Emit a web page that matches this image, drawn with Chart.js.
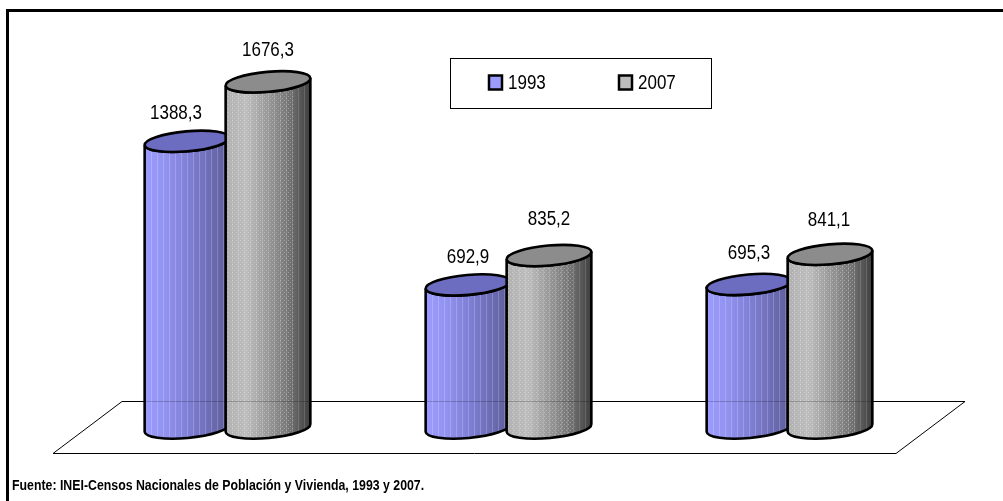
<!DOCTYPE html>
<html>
<head>
<meta charset="utf-8">
<style>
  html, body { margin: 0; padding: 0; background: #fff; }
  #wrap { position: relative; width: 1003px; height: 501px; }
</style>
</head>
<body>
<div id="wrap"><canvas id="chart" width="1003" height="501"></canvas></div>
<script src="https://cdn.jsdelivr.net/npm/chart.js@4/dist/chart.umd.min.js"></script>
<script>
const categories = ['Total', 'Hombres', 'Mujeres'];
const years = ['1993', '2007'];
const values1993 = [1388.3, 692.9, 695.3];
const values2007 = [1676.3, 835.2, 841.1];
const sourceText = 'Fuente: INEI-Censos Nacionales de Población y Vivienda, 1993 y 2007.';

// label offsets from the top of each cylinder, they aren't regular in the picture
const labelShiftX = [[-11, 0, 0], [0, 0, -1]];
const labelRise = [[28, 27, 31], [31, 36, 34]];

const looks = [
    { stops: ['#9c9cff', '#9292f0', '#8080d8', '#6e6eb8', '#5c5c98'], top: '#6c6cc0', dots: 'rgba(255,255,255,0)', line: 'rgba(255,255,255,0.2)' },
    { stops: ['#b0b0b0', '#bcbcbc', '#989898', '#747474', '#3e3e3e'], top: '#8c8c8c', dots: 'rgba(255,255,255,0.3)', line: 'rgba(255,255,255,0.14)' }
];

function fmt(v) {
    return v.toFixed(1).replace('.', ',');
}

// the text in the picture is squeezed sideways
function squeezedText(ctx, text, x, y, size, weight, align) {
    ctx.save();
    ctx.translate(x, y);
    ctx.scale(0.85, 1);
    ctx.font = weight + ' ' + size + 'px "Liberation Sans"';
    ctx.textAlign = align;
    ctx.textBaseline = 'middle';
    ctx.fillStyle = '#000';
    ctx.fillText(text, 0, 0);
    ctx.restore();
}

function dotPattern(ctx, color) {
    const c = document.createElement('canvas');
    c.width = 4;
    c.height = 4;
    const g = c.getContext('2d');
    g.fillStyle = color;
    g.fillRect(0, 0, 1, 1);
    g.fillRect(2, 2, 1, 1);
    return ctx.createPattern(c, 'repeat');
}

function drawCylinder(ctx, bar, look) {
    const rx = bar.width / 2;
    const ry = 10;
    const tilt = -0.09;
    const dx = rx * Math.cos(tilt);
    const dy = rx * Math.sin(tilt);

    const side = new Path2D();
    side.moveTo(bar.x - dx, bar.y - dy);
    side.lineTo(bar.x - dx, bar.base - dy);
    side.ellipse(bar.x, bar.base, rx, ry, tilt, Math.PI, 0, true);
    side.lineTo(bar.x + dx, bar.y + dy);
    side.ellipse(bar.x, bar.y, rx, ry, tilt, 0, Math.PI, false);
    side.closePath();

    const grad = ctx.createLinearGradient(bar.x - rx, 0, bar.x + rx, 0);
    look.stops.forEach((s, i) => grad.addColorStop(i / (look.stops.length - 1), s));
    ctx.fillStyle = grad;
    ctx.fill(side);

    // vertical streaks and the dotted texture
    ctx.save();
    ctx.clip(side);
    ctx.fillStyle = look.line;
    for (let i = 1; i < 14; i++) {
        ctx.fillRect(Math.round(bar.x - rx + i * bar.width / 14), bar.y - 20, 1, bar.base - bar.y + 40);
    }
    ctx.fillStyle = dotPattern(ctx, look.dots);
    ctx.fillRect(bar.x - rx, bar.y - 20, bar.width * 0.8, bar.base - bar.y + 40);
    ctx.restore();

    ctx.lineWidth = 2.6;
    ctx.strokeStyle = '#000';
    ctx.stroke(side);

    ctx.beginPath();
    ctx.ellipse(bar.x, bar.y, rx, ry, tilt, 0, Math.PI * 2);
    ctx.fillStyle = look.top;
    ctx.fill();
    ctx.stroke();
}

const pageParts = {
    id: 'pageParts',
    beforeDatasetsDraw(chart) {
        const ctx = chart.ctx;
        ctx.save();
        // frame, only top and left in the picture
        ctx.strokeStyle = '#000';
        ctx.lineWidth = 3;
        ctx.beginPath();
        ctx.moveTo(7.5, 501);
        ctx.lineTo(7.5, 10.5);
        ctx.lineTo(1003, 10.5);
        ctx.stroke();
        // floor
        ctx.lineWidth = 1;
        ctx.beginPath();
        ctx.moveTo(122, 401.5);
        ctx.lineTo(965, 401.5);
        ctx.lineTo(896, 453.5);
        ctx.lineTo(53, 453.5);
        ctx.closePath();
        ctx.stroke();
        ctx.restore();
    },
    afterDatasetsDraw(chart) {
        const ctx = chart.ctx;
        ctx.save();
        chart.data.datasets.forEach((ds, d) => {
            chart.getDatasetMeta(d).data.forEach(bar => drawCylinder(ctx, bar, looks[d]));
        });

        // the floor line shows faintly through the cylinders
        ctx.strokeStyle = 'rgba(0,0,0,0.2)';
        ctx.lineWidth = 1;
        ctx.beginPath();
        ctx.moveTo(146, 401.5);
        ctx.lineTo(872, 401.5);
        ctx.stroke();

        chart.data.datasets.forEach((ds, d) => {
            chart.getDatasetMeta(d).data.forEach((bar, i) => {
                squeezedText(ctx, fmt(ds.data[i]), bar.x + labelShiftX[d][i], bar.y - labelRise[d][i], 20, 'normal', 'center');
            });
        });

        // legend box
        ctx.fillStyle = '#fff';
        ctx.fillRect(450.5, 58.5, 261, 50);
        ctx.strokeStyle = '#000';
        ctx.lineWidth = 1;
        ctx.strokeRect(450.5, 58.5, 261, 50);
        chart.data.datasets.forEach((ds, d) => {
            const x = d === 0 ? 489 : 619;
            ctx.fillStyle = looks[d].stops[d];
            ctx.fillRect(x, 75.5, 13, 14);
            ctx.lineWidth = 2.5;
            ctx.strokeRect(x, 75.5, 13, 14);
            squeezedText(ctx, ds.label, x + 19, 83.5, 20, 'normal', 'left');
        });

        squeezedText(ctx, sourceText, 12, 486, 14.5, 'bold', 'left');
        ctx.restore();
    }
};

new Chart(document.getElementById('chart'), {
    type: 'bar',
    data: {
        labels: categories,
        datasets: [
            { label: years[0], data: values1993, backgroundColor: 'rgba(0,0,0,0)' },
            { label: years[1], data: values2007, backgroundColor: 'rgba(0,0,0,0)' }
        ]
    },
    options: {
        responsive: false,
        animation: false,
        barPercentage: 1.05,
        categoryPercentage: 0.5765,
        layout: { padding: { left: 87, right: 73, top: 15, bottom: 73 } },
        plugins: { legend: { display: false }, tooltip: { enabled: false } },
        scales: {
            x: { display: false },
            y: { display: false, min: 0, max: 2000 }
        }
    },
    plugins: [pageParts]
});
</script>
</body>
</html>
